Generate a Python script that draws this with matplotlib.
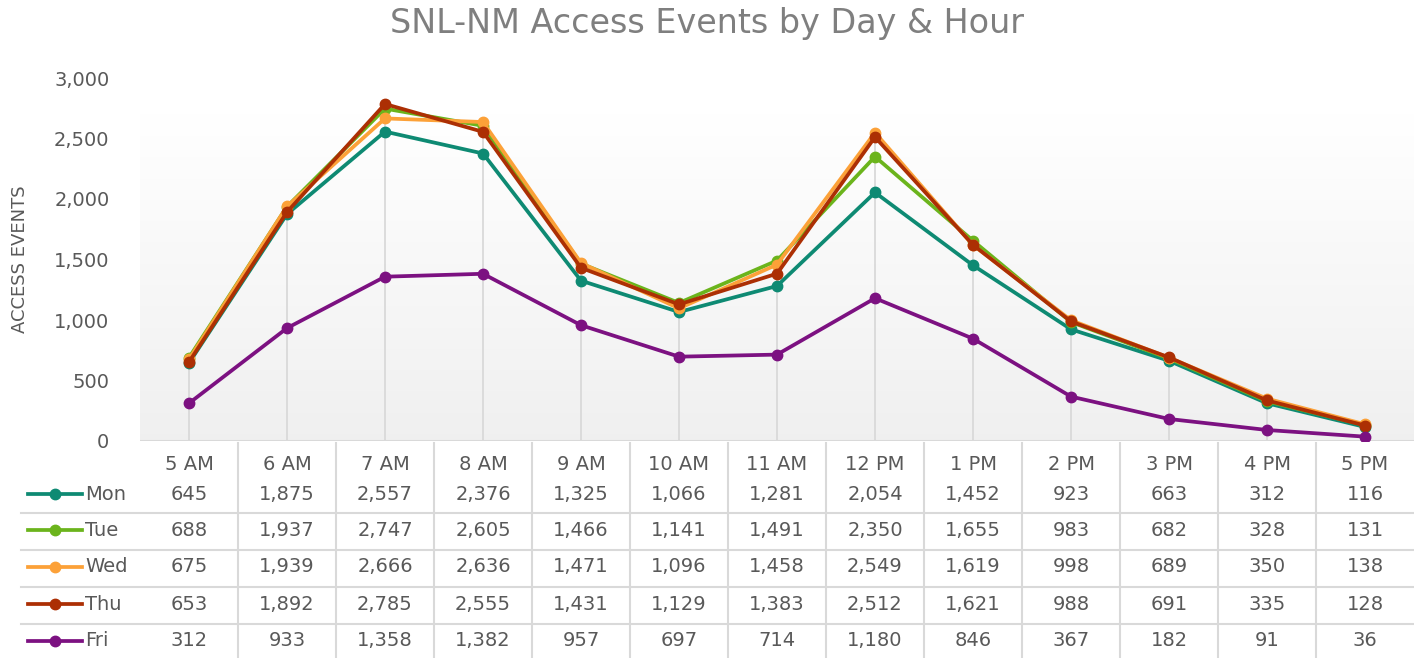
import numpy as np
import matplotlib
matplotlib.use("Agg")
from matplotlib import pyplot as plt

hours = ['5 AM', '6 AM', '7 AM', '8 AM', '9 AM', '10 AM', '11 AM',
         '12 PM', '1 PM', '2 PM', '3 PM', '4 PM', '5 PM']
days = ['Mon', 'Tue', 'Wed', 'Thu', 'Fri']
mon = [645, 1875, 2557, 2376, 1325, 1066, 1281, 2054, 1452, 923, 663, 312, 116]
tue = [688, 1937, 2747, 2605, 1466, 1141, 1491, 2350, 1655, 983, 682, 328, 131]
wed = [675, 1939, 2666, 2636, 1471, 1096, 1458, 2549, 1619, 998, 689, 350, 138]
thu = [653, 1892, 2785, 2555, 1431, 1129, 1383, 2512, 1621, 988, 691, 335, 128]
fri = [312, 933, 1358, 1382, 957, 697, 714, 1180, 846, 367, 182, 91, 36]
series = [mon, tue, wed, thu, fri]
colors = ['#0e8a73', '#6bb41c', '#fca138', '#ac2f04', '#7c1181']

text_col = '#595959'
grid_col = '#d9d9d9'
plt.rcParams['font.family'] = ['DejaVu Sans']

W, H = 1414, 658
fig = plt.figure(figsize=(W / 100, H / 100), dpi=100)
fig.patch.set_facecolor('white')

left, right, top, bottom = 140, 1414, 78, 441
ax = fig.add_axes([left / W, 1 - bottom / H, (right - left) / W, (bottom - top) / H])
x = np.arange(len(hours))
ax.set_xlim(-0.5, len(hours) - 0.5)
ax.set_ylim(0, 3000)

# soft gradient in the plot area (grey at the bottom, white at the top)
t = np.linspace(0, 1, 256)
grad = 0.94 + 0.06 * np.clip(t / 0.9, 0, 1)
grad = grad.reshape(-1, 1)
ax.imshow(np.dstack([grad, grad, grad]), extent=[-0.5, len(hours) - 0.5, 0, 3000],
          aspect='auto', origin='lower', zorder=0)

# drop lines from the highest point down to the axis
tops = np.max(np.array(series), axis=0)
ax.vlines(x, 0, tops, color=grid_col, lw=1.3, zorder=1)
ax.axhline(0, color=grid_col, lw=1.5, zorder=1)

for vals, c, d in zip(series, colors, days):
    ax.plot(x, vals, '-o', color=c, lw=2.7, ms=7.5, label=d, zorder=3)

for s in ax.spines.values():
    s.set_visible(False)
ax.set_xticks([])
ax.set_yticks(range(0, 3001, 500))
ax.set_yticklabels([f'{v:,}' for v in range(0, 3001, 500)])
ax.tick_params(axis='y', length=0, pad=22, labelsize=14, labelcolor=text_col)
ax.set_ylabel('ACCESS EVENTS', fontsize=13, color=text_col, labelpad=18)
fig.text(0.5, 1 - 24 / H, 'SNL-NM Access Events by Day & Hour', ha='center', va='center',
         fontsize=24, color='#7f7f7f')

# data table under the chart
tab = fig.add_axes([left / W, 0, (right - left) / W, (H - bottom) / H])
tab.set_xlim(-0.5, len(hours) - 0.5)
tab.set_ylim(H - bottom, 0)
tab.axis('off')
cell = (right - left) / len(hours)
x_left = -0.5 - (left - 21) / cell

row_y = [53, 89, 126, 163, 200]
for xi, h in zip(x, hours):
    tab.text(xi, 24, h, ha='center', va='center', fontsize=14, color=text_col)
for xi in x[:-1]:
    tab.plot([xi + 0.5, xi + 0.5], [2, H - bottom], color=grid_col, lw=1.5, clip_on=False)
for yl in [72, 109, 146, 183]:
    tab.plot([x_left, len(hours) - 0.5], [yl, yl], color=grid_col, lw=1.5, clip_on=False)

for vals, c, d, ry in zip(series, colors, days, row_y):
    lx0 = -0.5 - (left - 28) / cell
    lx1 = -0.5 - (left - 82) / cell
    tab.plot([lx0, lx1], [ry, ry], color=c, lw=2.7, clip_on=False)
    tab.plot([(lx0 + lx1) / 2], [ry], 'o', color=c, ms=7.5, clip_on=False)
    tab.text(-0.5 - (left - 85) / cell, ry, d, ha='left', va='center', fontsize=14,
             color=text_col)
    for xi, v in zip(x, vals):
        tab.text(xi, ry, f'{v:,}', ha='center', va='center', fontsize=14, color=text_col)

fig.savefig('out.png', dpi=100)
